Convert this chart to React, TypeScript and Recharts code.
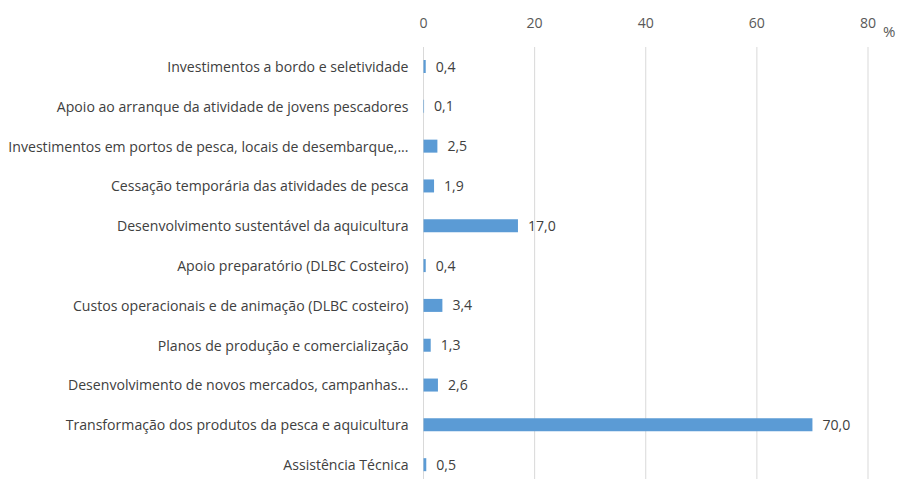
import { BarChart, Bar, XAxis, YAxis, CartesianGrid, LabelList } from "recharts";

const categories = [
  "Investimentos a bordo e seletividade",
  "Apoio ao arranque da atividade de jovens pescadores",
  "Investimentos em portos de pesca, locais de desembarque,...",
  "Cessação temporária das atividades de pesca",
  "Desenvolvimento sustentável da aquicultura",
  "Apoio preparatório (DLBC Costeiro)",
  "Custos operacionais e de animação (DLBC costeiro)",
  "Planos de produção e comercialização",
  "Desenvolvimento de novos mercados, campanhas...",
  "Transformação dos produtos da pesca e aquicultura",
  "Assistência Técnica",
];

const values = [0.4, 0.1, 2.5, 1.9, 17.0, 0.4, 3.4, 1.3, 2.6, 70.0, 0.5];

const axisTicks = [0, 20, 40, 60, 80];

const FONT = "'Open Sans', sans-serif";
const FS = 14.1;

function formatPct(v: any): string {
  return Number(v).toFixed(1).replace(".", ",");
}

export default function App() {
  const data = categories.map((name, i) => ({ name, value: values[i] }));

  return (
    <div
      style={{
        position: "fixed",
        left: 0,
        top: 0,
        width: 897,
        height: 479,
        overflow: "hidden",
        background: "#fff",
        fontFamily: FONT,
      }}
    >
      <BarChart
        width={897}
        height={485}
        data={data}
        layout="vertical"
        margin={{ top: 0, right: 29, bottom: 0, left: 0 }}
      >
        <CartesianGrid horizontal={false} stroke="#d9d9d9" />
        <XAxis
          type="number"
          orientation="top"
          domain={[0, 80]}
          ticks={axisTicks}
          height={47}
          axisLine={false}
          tickLine={false}
          tickSize={0}
          tickMargin={19}
          tick={{ fontSize: FS, fill: "#595959", fontFamily: FONT }}
        />
        <YAxis
          type="category"
          dataKey="name"
          width={423.5}
          interval={0}
          axisLine={false}
          tickLine={false}
          tickSize={0}
          tickMargin={15}
          tick={{ fontSize: FS, fill: "#404040", fontFamily: FONT }}
        />
        <Bar dataKey="value" fill="#5b9bd5" barSize={13} isAnimationActive={false}>
          <LabelList
            dataKey="value"
            position="right"
            offset={10}
            formatter={formatPct}
            style={{ fontSize: FS, fill: "#404040", fontFamily: FONT }}
          />
        </Bar>
      </BarChart>
      <div
        style={{
          position: "absolute",
          left: 883,
          top: 22,
          fontSize: 15,
          color: "#595959",
          lineHeight: "18px",
        }}
      >
        %
      </div>
    </div>
  );
}
